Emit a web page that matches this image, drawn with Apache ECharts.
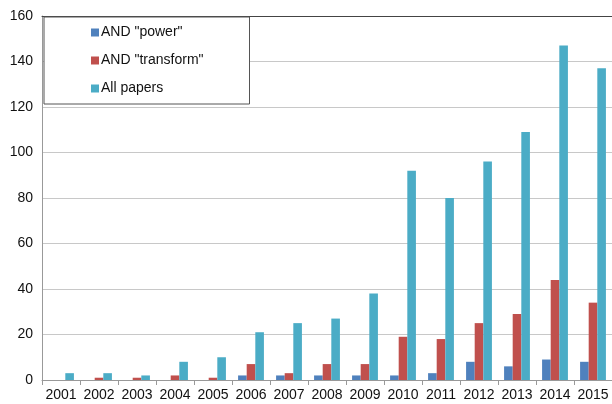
<!DOCTYPE html>
<html><head><meta charset="utf-8">
<script src="https://cdn.jsdelivr.net/npm/echarts@6/dist/echarts.min.js"></script>
<style>html,body{margin:0;padding:0;background:#fff}#c{width:612px;height:404px}</style>
</head><body><div id="c"></div>
<script>
const years = ['2001','2002','2003','2004','2005','2006','2007','2008','2009','2010','2011','2012','2013','2014','2015'];
const power = [0,0,0,0,0,2,2,2,2,2,3,8,6,9,8];
const transform = [0,1,1,2,1,7,3,7,7,19,18,25,29,44,34];
const allPapers = [3,3,2,8,10,21,25,27,38,92,80,96,109,147,137];
const seriesNames = ['AND "power"','AND "transform"','All papers'];
const colors = ['#4F81BD','#C0504D','#4BACC6'];

const chart = echarts.init(document.getElementById('c'), null, {renderer:'canvas'});
const font = {fontFamily:'Liberation Sans, Arial, sans-serif', fontSize:14, color:'#111'};
chart.setOption({
  animation:false,
  grid:{left:42, right:0, top:16, bottom:24},
  legend:{
    orient:'vertical', left:44, top:17,
    data:seriesNames,
    icon:'rect', itemWidth:8, itemHeight:8, itemGap:13,
    padding:[8,46,8,47],
    backgroundColor:'#fff', borderColor:'#555', borderWidth:1,
    textStyle:Object.assign({}, font, {lineHeight:15, padding:[0,0,0,-3]})
  },
  xAxis:[{
    type:'category', data:years,
    axisLine:{lineStyle:{color:'#999'}},
    axisTick:{show:true, length:5, lineStyle:{color:'#999'}},
    axisLabel:Object.assign({}, font, {margin:8, interval:0, hideOverlap:false})
  },{
    type:'category', data:years, position:'top',
    axisLine:{lineStyle:{color:'#444'}},
    axisTick:{show:false}, axisLabel:{show:false}
  }],
  yAxis:{
    type:'value', min:0, max:160, interval:20,
    axisLine:{show:true, lineStyle:{color:'#999'}},
    axisTick:{show:false},
    splitLine:{lineStyle:{color:'#c8c8c8'}},
    axisLabel:Object.assign({}, font, {margin:9})
  },
  series:[
    {name:seriesNames[0], type:'bar', data:power, itemStyle:{color:colors[0]}, barGap:'0%', barCategoryGap:'32%'},
    {name:seriesNames[1], type:'bar', data:transform, itemStyle:{color:colors[1]}, barGap:'0%', barCategoryGap:'32%'},
    {name:seriesNames[2], type:'bar', data:allPapers, itemStyle:{color:colors[2]}, barGap:'0%', barCategoryGap:'32%'}
  ]
});
</script></body></html>
